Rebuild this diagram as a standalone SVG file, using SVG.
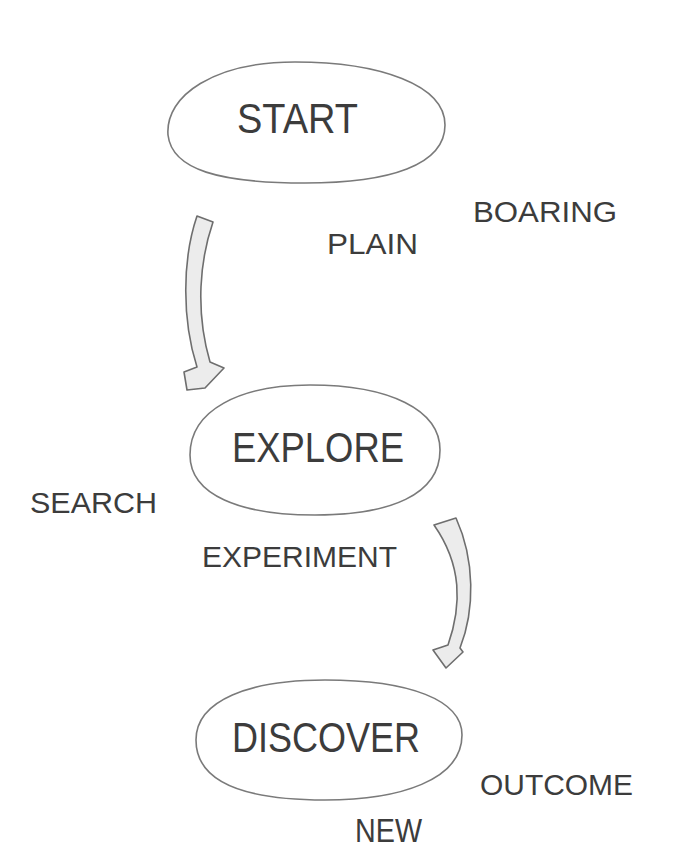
<svg xmlns="http://www.w3.org/2000/svg" width="685" height="865" viewBox="0 0 685 865">
<style>
.node{fill:#ffffff;stroke:#7a7a7a;stroke-width:1.6}
.big{font-family:"Liberation Sans","DejaVu Sans",sans-serif;font-size:42px;fill:#3c3c3c}
.lbl{font-family:"Liberation Sans","DejaVu Sans",sans-serif;font-size:30px;fill:#3c3c3c}
.arrow{fill:#ececec;stroke:#6e6e6e;stroke-width:1.6;stroke-linejoin:round}
</style>
<rect width="685" height="865" fill="#ffffff"/>
<g id="start">
<path class="node" d="M 168,135 C 165,95 215,62 295,62 C 380,62 445,85 445,125 C 445,165 390,183 305,183 C 220,183 172,170 168,135 Z"/>
<text class="big" x="237" y="133" textLength="121" lengthAdjust="spacingAndGlyphs">START</text>
</g>
<g id="explore">
<path class="node" d="M 190,455 C 190,410 240,385 310,385 C 390,385 440,410 440,450 C 440,495 390,515 315,515 C 240,515 190,495 190,455 Z"/>
<text class="big" x="232" y="462" textLength="172" lengthAdjust="spacingAndGlyphs">EXPLORE</text>
</g>
<g id="discover">
<path class="node" d="M 196,740 C 196,700 250,680 325,680 C 410,680 462,700 462,735 C 462,780 400,800 325,800 C 250,800 196,785 196,740 Z"/>
<text class="big" x="232" y="752" textLength="188" lengthAdjust="spacingAndGlyphs">DISCOVER</text>
</g>
<g id="labels">
<text class="lbl" x="473" y="222" textLength="144" lengthAdjust="spacingAndGlyphs">BOARING</text>
<text class="lbl" x="327" y="254" textLength="91" lengthAdjust="spacingAndGlyphs">PLAIN</text>
<text class="lbl" x="30" y="513" textLength="127" lengthAdjust="spacingAndGlyphs">SEARCH</text>
<text class="lbl" x="202" y="567" textLength="195" lengthAdjust="spacingAndGlyphs">EXPERIMENT</text>
<text class="lbl" x="480" y="795" textLength="153" lengthAdjust="spacingAndGlyphs">OUTCOME</text>
<text class="lbl" x="355" y="842" textLength="67" lengthAdjust="spacingAndGlyphs" style="font-size:33px">NEW</text>
</g>
<g id="connectors">
<path class="arrow" d="M 197,216 L 213,222 C 200,260 195,310 210,362 L 224,368 L 205,388 L 187,390 L 184,372 L 197,367 C 182,320 182,260 197,216 Z"/>
<path class="arrow" d="M 434,525 L 456,518 C 475,560 475,610 460,648 L 463,652 L 446,668 L 433,650 L 448,645 C 462,605 462,565 434,525 Z"/>
</g>
</svg>
